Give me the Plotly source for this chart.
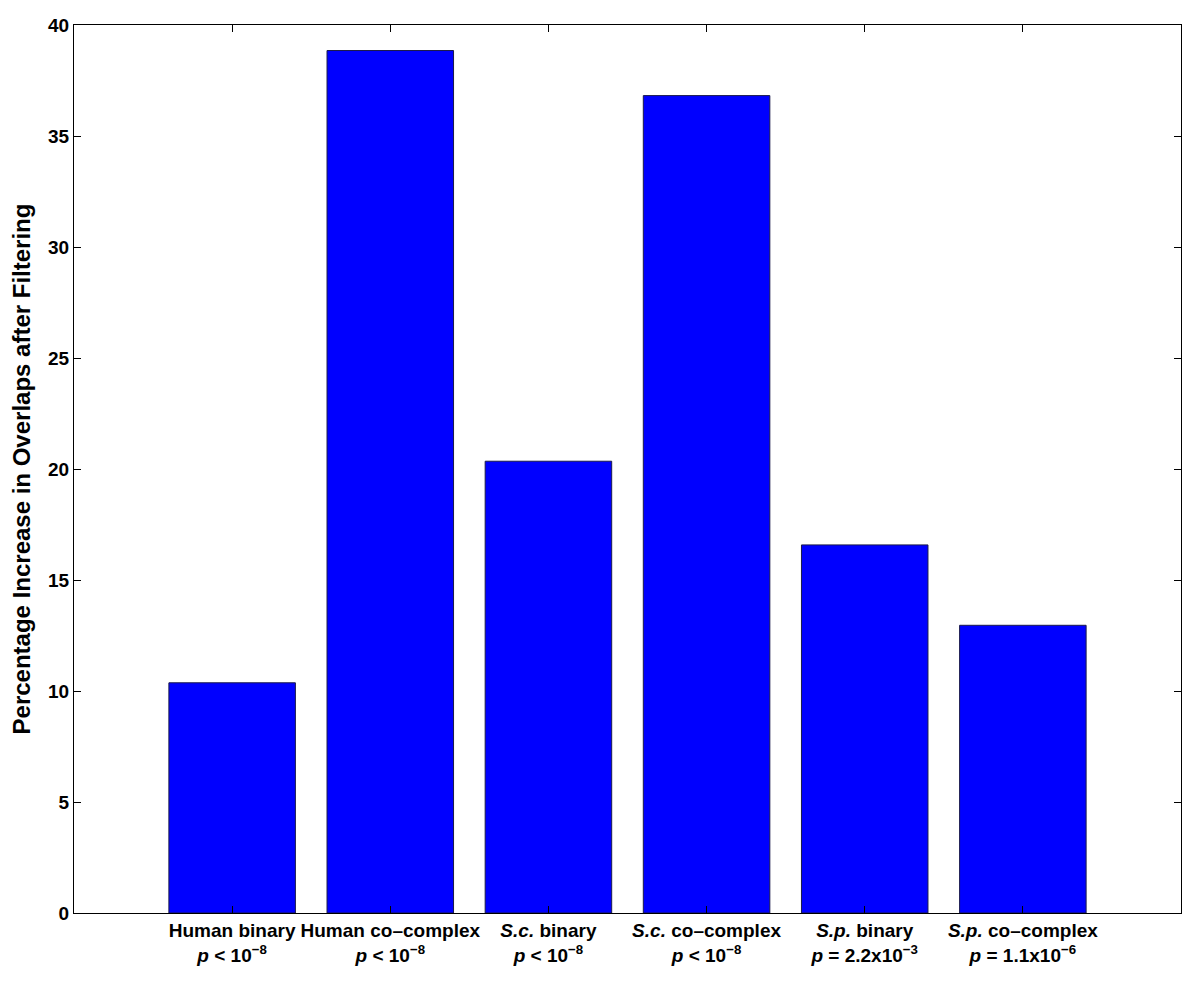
import plotly.graph_objects as go

categories = ["Human binary", "Human co\u2013complex", "<i>S.c.</i> binary",
              "<i>S.c.</i> co\u2013complex", "<i>S.p.</i> binary", "<i>S.p.</i> co\u2013complex"]
pvalues = ["<i>p</i> < 10<sup>\u22128</sup>", "<i>p</i> < 10<sup>\u22128</sup>",
           "<i>p</i> < 10<sup>\u22128</sup>", "<i>p</i> < 10<sup>\u22128</sup>",
           "<i>p</i> = 2.2x10<sup>\u22123</sup>", "<i>p</i> = 1.1x10<sup>\u22126</sup>"]
values = [10.37, 38.85, 20.35, 36.82, 16.58, 12.96]
positions = [1, 2, 3, 4, 5, 6]
ytick_vals = [0, 5, 10, 15, 20, 25, 30, 35, 40]

ticktext = [f"{c}<br>{p}" for c, p in zip(categories, pvalues)]

fig = go.Figure(go.Bar(
    x=positions, y=values, width=0.8,
    marker=dict(color="#0000FF", line=dict(color="#1a1a4a", width=1)),
))

font_family = "Liberation Sans, Arial, sans-serif"
fig.update_layout(
    width=1200, height=990,
    margin=dict(l=66, r=27, t=17, b=85),
    plot_bgcolor="white", paper_bgcolor="white",
    showlegend=False,
    font=dict(family=font_family, color="black"),
)
fig.update_xaxes(
    range=[0, 7], tickmode="array", tickvals=positions, ticktext=ticktext,
    ticks="inside", ticklen=7, tickcolor="black", tickwidth=1, tickangle=0,
    showline=True, linecolor="black", linewidth=1, mirror="ticks",
    showgrid=False, zeroline=False, automargin=False,
    tickfont=dict(size=19, family=font_family, weight="bold", color="black"),
)
fig.update_yaxes(
    range=[0, 40], tickmode="array", tickvals=ytick_vals,
    ticks="inside", ticklen=7, tickcolor="black", tickwidth=1,
    showline=True, linecolor="black", linewidth=1, mirror="ticks",
    showgrid=False, zeroline=False, automargin=False,
    tickfont=dict(size=19, family=font_family, weight="bold", color="black"),
    title=dict(text="Percentage Increase in Overlaps after Filtering",
               font=dict(size=24, family=font_family, weight="bold", color="black"),
               standoff=10),
)

fig.write_html("out.html")
